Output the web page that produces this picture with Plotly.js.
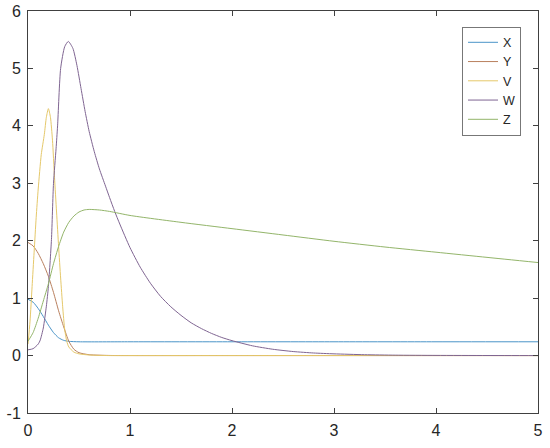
<!DOCTYPE html>
<html>
<head>
<meta charset="utf-8">
<script src="https://cdn.plot.ly/plotly-3.0.1.min.js"></script>
<style>html,body{margin:0;padding:0;background:#fff;}#chart{width:550px;height:448px;}</style>
</head>
<body>
<div id="chart"></div>
<script>
// Series names
const seriesNames = ["X", "Y", "V", "W", "Z"];

// Tick labels
const xTickVals = [0, 1, 2, 3, 4, 5];
const xTickText = ["0", "1", "2", "3", "4", "5"];
const yTickVals = [-1, 0, 1, 2, 3, 4, 5, 6];
const yTickText = ["-1", "0", "1", "2", "3", "4", "5", "6"];

// X
const tX = [0, 0.05, 0.1, 0.15, 0.2, 0.25, 0.3, 0.35, 0.4, 0.5, 1, 2, 3, 4, 5];
const valX = [0.98, 0.93, 0.82, 0.68, 0.53, 0.40, 0.31, 0.265, 0.248, 0.24, 0.24, 0.24, 0.24, 0.24, 0.24];

// Y
const tY = [0, 0.05, 0.1, 0.15, 0.2, 0.25, 0.3, 0.35, 0.4, 0.45, 0.5, 0.6, 0.8, 1, 2, 3, 4, 5];
const valY = [1.97, 1.91, 1.78, 1.60, 1.38, 1.10, 0.78, 0.50, 0.25, 0.11, 0.05, 0.015, 0.002, 0, 0, 0, 0, 0];

// V
const tV = [0, 0.02, 0.04, 0.06, 0.08, 0.1, 0.13, 0.16, 0.18, 0.2, 0.22, 0.24, 0.26, 0.28, 0.3, 0.32, 0.34, 0.36, 0.38, 0.4, 0.45, 0.5, 0.6, 0.8, 1, 2, 3, 4, 5];
const valV = [0.2, 0.6, 1.2, 1.8, 2.4, 2.9, 3.5, 3.85, 4.15, 4.3, 4.15, 3.75, 3.1, 2.5, 1.9, 1.35, 0.85, 0.45, 0.25, 0.15, 0.06, 0.03, 0.01, 0, 0, 0, 0, 0, 0];

// W
const tW = [0, 0.05, 0.1, 0.12, 0.15, 0.18, 0.2, 0.23, 0.25, 0.275, 0.29, 0.32, 0.36, 0.395, 0.44, 0.48, 0.52, 0.56, 0.6, 0.65, 0.7, 0.76, 0.8, 0.85, 0.9, 1.0, 1.1, 1.2, 1.3, 1.4, 1.5, 1.6, 1.7, 1.8, 1.9, 2.0, 2.2, 2.4, 2.6, 2.8, 3.0, 3.3, 3.6, 4.0, 4.5, 5];
const valW = [0.1, 0.12, 0.2, 0.27, 0.48, 0.86, 1.2, 2.02, 3.0, 3.6, 4.0, 5.0, 5.38, 5.47, 5.35, 5.05, 4.65, 4.25, 3.9, 3.55, 3.25, 2.95, 2.75, 2.51, 2.29, 1.88, 1.54, 1.26, 1.03, 0.85, 0.70, 0.57, 0.47, 0.385, 0.315, 0.26, 0.17, 0.11, 0.07, 0.045, 0.03, 0.015, 0.007, 0.003, 0.001, 0];

// Z
const tZ = [0, 0.05, 0.1, 0.15, 0.2, 0.25, 0.3, 0.35, 0.4, 0.45, 0.5, 0.55, 0.6, 0.7, 0.8, 1, 1.5, 2, 2.5, 3, 3.5, 4, 4.5, 5];
const valZ = [0.25, 0.4, 0.65, 0.95, 1.25, 1.6, 1.9, 2.15, 2.32, 2.43, 2.5, 2.535, 2.545, 2.535, 2.51, 2.44, 2.32, 2.21, 2.10, 1.99, 1.89, 1.80, 1.71, 1.62];

const colors = ["#4a94c8", "#b9805e", "#e5c86a", "#7f6592", "#93b56a"];
const xs = [tX, tY, tV, tW, tZ];
const ys = [valX, valY, valV, valW, valZ];

const traces = seriesNames.map((n, i) => ({
  x: xs[i], y: ys[i], name: n, type: "scatter", mode: "lines",
  line: {color: colors[i], width: 1, shape: "spline", smoothing: 0.6}
}));

const axisCommon = {
  showline: true, linecolor: "#404040", linewidth: 1, mirror: "ticks",
  ticks: "inside", ticklen: 5, tickcolor: "#404040", tickwidth: 1,
  showgrid: false, zeroline: false, tickmode: "array",
  tickfont: {family: "Liberation Sans, Arial, sans-serif", size: 16, color: "#262626"}
};

const layout = {
  width: 550, height: 448,
  margin: {l: 28, r: 12, t: 11, b: 35},
  paper_bgcolor: "#ffffff", plot_bgcolor: "#ffffff",
  xaxis: Object.assign({}, axisCommon, {range: [0, 5], tickvals: xTickVals, ticktext: xTickText, ticklabelstandoff: 3}),
  yaxis: Object.assign({}, axisCommon, {range: [-1, 6], tickvals: yTickVals, ticktext: yTickText, ticklabelstandoff: 3}),
  showlegend: true,
  legend: {
    x: 0.851, y: 0.961, xanchor: "left", yanchor: "top",
    bgcolor: "#ffffff", bordercolor: "#777777", borderwidth: 1,
    font: {family: "Liberation Sans, Arial, sans-serif", size: 12.5, color: "#262626"},
    tracegroupgap: 0, itemwidth: 30
  }
};

Plotly.newPlot("chart", traces, layout, {displayModeBar: false, staticPlot: true});
</script>
</body>
</html>
